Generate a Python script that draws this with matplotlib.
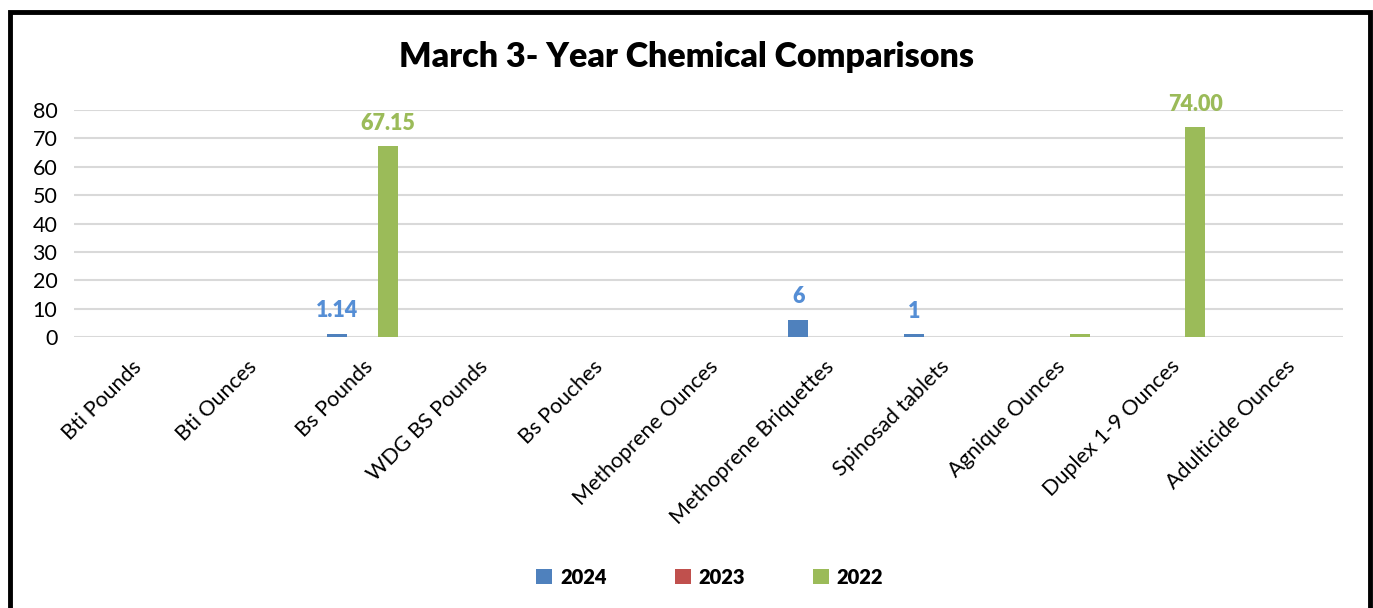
import numpy as np
import matplotlib.pyplot as plt
from matplotlib.patches import Rectangle, Patch

categories = ["Bti Pounds", "Bti Ounces", "Bs Pounds", "WDG BS Pounds", "Bs Pouches",
              "Methoprene Ounces", "Methoprene Briquettes", "Spinosad tablets",
              "Agnique Ounces", "Duplex 1-9 Ounces", "Adulticide Ounces"]
vals_2024 = [0, 0, 1.14, 0, 0, 0, 6, 1, 0, 0, 0]
vals_2023 = [0, 0, 0, 0, 0, 0, 0, 0, 0, 0, 0]
vals_2022 = [0, 0, 67.15, 0, 0, 0, 0, 0, 1, 74.00, 0]
labels_2024 = ["", "", "1.14", "", "", "", "6", "1", "", "", ""]
labels_2022 = ["", "", "67.15", "", "", "", "", "", "", "74.00", ""]
years = ["2024", "2023", "2022"]
colors = ["#4f81bd", "#c0504d", "#9bbb59"]
label_colors = ["#558ed5", "#c0504d", "#9bbb59"]

plt.rcParams['font.family'] = ['Lato', 'DejaVu Sans']

fig = plt.figure(figsize=(13.73, 6.08), dpi=100)
ax = fig.add_axes([74/1373, 1 - 337/608, (1343-74)/1373, (337-110)/608])

x = np.arange(len(categories))
w = 0.173
step = 0.221
series = [vals_2024, vals_2023, vals_2022]
bar_sets = []
for i, (vals, c) in enumerate(zip(series, colors)):
    bars = ax.bar(x + (i - 1) * step, vals, width=w, color=c, zorder=3)
    bar_sets.append(bars)

# only a few values carry labels in the original
ax.bar_label(bar_sets[0], labels=labels_2024, padding=9, color=label_colors[0],
             fontsize=15.5, fontweight="heavy")
ax.bar_label(bar_sets[2], labels=labels_2022, padding=9, color=label_colors[2],
             fontsize=15.5, fontweight="heavy")

ax.set_xlim(-0.5, len(categories) - 0.5)
ax.set_ylim(0, 80)
ax.set_yticks(range(0, 81, 10))
ax.yaxis.grid(True, color="#d9d9d9", linewidth=1.5, zorder=0)
ax.set_axisbelow(True)
for s in ax.spines.values():
    s.set_visible(False)
ax.tick_params(axis="both", length=0, labelsize=15.5)
ax.tick_params(axis="y", pad=12)
ax.set_xticks(x)
ax.set_xticklabels(categories, rotation=45, ha="right", rotation_mode="anchor")
ax.tick_params(axis="x", pad=14)

fig.text(0.5, 1 - 57/608, "March 3- Year Chemical Comparisons", ha="center", va="center",
         fontsize=24.5, fontweight="heavy")

handles = [Patch(facecolor=c, label=y) for c, y in zip(colors, years)]
fig.legend(handles=handles, loc="center", bbox_to_anchor=(0.517, 1 - 577/608), ncol=3,
           frameon=False, columnspacing=3.35, handlelength=0.8, handleheight=0.8,
           handletextpad=0.4, prop={"weight": "heavy", "size": 14.5})

fig.patches.append(Rectangle((10/1373, -0.05), (1370-10)/1373, 1 - 12/608 + 0.05,
                             transform=fig.transFigure, fill=False, edgecolor="black",
                             linewidth=3.5))

fig.savefig("out.png", dpi=100)
